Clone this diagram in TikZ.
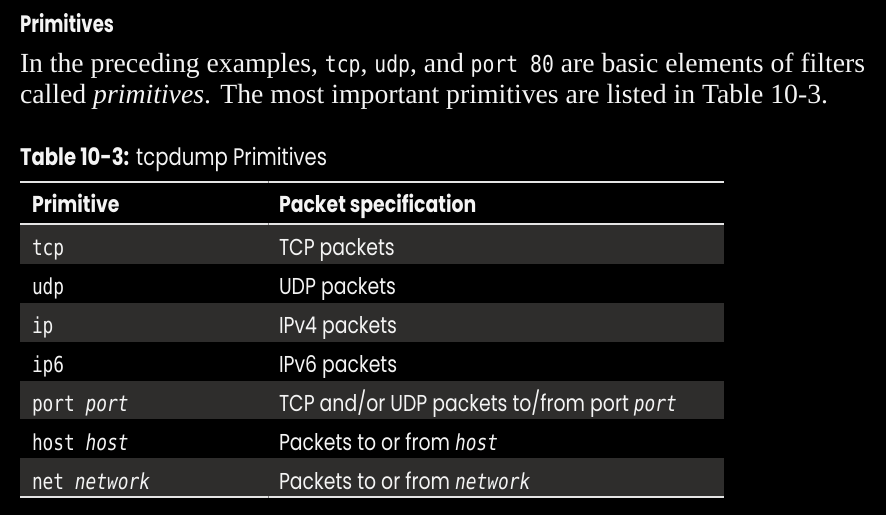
\documentclass[tikz,border=0pt]{standalone}
\usepackage{fontspec}
\setmainfont{Liberation Serif}
\newfontfamily\fut[FakeStretch=0.82]{Poppins}
\newfontfamily\futh[FakeStretch=0.80]{Poppins}
\newfontfamily\codet[FakeStretch=0.81]{DejaVu Sans Mono}
\newfontfamily\codec[FakeStretch=0.85]{DejaVu Sans Mono}
\definecolor{rowshade}{HTML}{2E2D2C}
\definecolor{rulecol}{HTML}{E4E4E4}
\definecolor{txt}{HTML}{F4F4F4}
\newcommand{\cellfont}{\fut\fontsize{23}{23}\selectfont}
\newcommand{\codefont}{\codet\fontsize{22}{22}\selectfont}
\newcommand{\inl}[1]{{\codec\fontsize{21}{21}\selectfont #1}}
\tikzset{
  txtnode/.style={inner sep=0pt, outer sep=0pt, text=txt, anchor=base west},
  shaderow/.style={fill=rowshade},
  tablerule/.style={draw=rulecol, line width=2pt},
  cellnode/.style={txtnode, font=\cellfont},
  codenode/.style={txtnode, font=\codefont},
}
\begin{document}
\begin{tikzpicture}[x=1pt,y=-1pt]
\useasboundingbox (0,0) rectangle (886,515);
\fill[black] (0,0) rectangle (886,515);
% shaded rows
\fill[shaderow] (20,224) rectangle (724,264);
\fill[shaderow] (20,303) rectangle (724,342);
\fill[shaderow] (20,381) rectangle (724,419);
\fill[shaderow] (20,458) rectangle (724,497);
% rules
\draw[tablerule] (20,182) -- (724,182);
\draw[tablerule] (20,224) -- (724,224);
\draw[tablerule] (20,497) -- (724,497);
\draw[draw=gray, line width=1pt] (268,181) -- (268,183);
\draw[draw=gray, line width=1pt] (268,223) -- (268,225);
\draw[draw=gray, line width=1pt] (268,496) -- (268,498);
% heading and paragraph
\node[txtnode] (head) at (20,32) {\resizebox{94pt}{19pt}{\futh\bfseries Primitives}};
\node[txtnode] (l1) at (20,72) {\resizebox{845pt}{!}{\fontsize{25}{25}\selectfont In the preceding examples, \inl{tcp}, \inl{udp}, and \inl{port 80} are basic elements of filters}};
\node[txtnode] (l2) at (20,103) {\resizebox{808pt}{!}{\fontsize{25}{25}\selectfont called \textit{primitives}. The most important primitives are listed in Table 10-3.}};
\node[txtnode] (cap) at (20,165) {\resizebox{307pt}{!}{\fut\fontsize{24}{24}\selectfont\textbf{Table 10-3:} tcpdump Primitives}};
% header
\node[cellnode] (h1) at (32,212) {\bfseries Primitive};
\node[cellnode] (h2) at (279,212) {\bfseries Packet specification};
% rows
\node[codenode] (p1) at (32,255.5) {tcp};
\node[cellnode] (s1) at (279,255.5) {TCP packets};
\node[codenode] (p2) at (32,294.5) {udp};
\node[cellnode] (s2) at (279,294.5) {UDP packets};
\node[codenode] (p3) at (32,333.5) {ip};
\node[cellnode] (s3) at (279,333.5) {IPv4 packets};
\node[codenode] (p4) at (32,372.5) {ip6};
\node[cellnode] (s4) at (279,372.5) {IPv6 packets};
\node[codenode] (p5) at (32,411) {port \textit{port}};
\node[cellnode] (s5) at (279,411) {TCP and/or UDP packets to/from port {\codefont\itshape port}};
\node[codenode] (p6) at (32,450) {host \textit{host}};
\node[cellnode] (s6) at (279,450) {Packets to or from {\codefont\itshape host}};
\node[codenode] (p7) at (32,489) {net \textit{network}};
\node[cellnode] (s7) at (279,489) {Packets to or from {\codefont\itshape network}};
\end{tikzpicture}
\end{document}
